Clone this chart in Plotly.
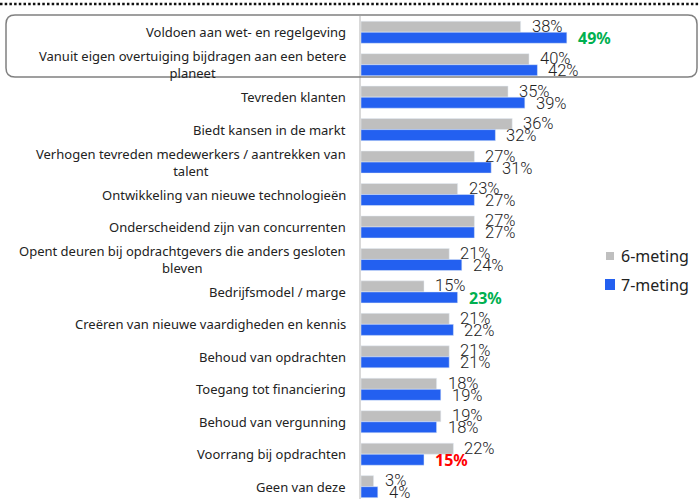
import plotly.graph_objects as go

categories = [
    "Voldoen aan wet- en regelgeving",
    "Vanuit eigen overtuiging bijdragen aan een betere<br>planeet",
    "Tevreden klanten",
    "Biedt kansen in de markt",
    "Verhogen tevreden medewerkers / aantrekken van<br>talent",
    "Ontwikkeling van nieuwe technologieën",
    "Onderscheidend zijn van concurrenten",
    "Opent deuren bij opdrachtgevers die anders gesloten<br>bleven",
    "Bedrijfsmodel / marge",
    "Creëren van nieuwe vaardigheden en kennis",
    "Behoud van opdrachten",
    "Toegang tot financiering",
    "Behoud van vergunning",
    "Voorrang bij opdrachten",
    "Geen van deze",
]
meting6 = [38, 40, 35, 36, 27, 23, 27, 21, 15, 21, 21, 18, 19, 22, 3]
meting7 = [49, 42, 39, 32, 31, 27, 27, 24, 23, 22, 21, 19, 18, 15, 4]
series_names = ["6-meting", "7-meting"]
# significant changes in the 7th measurement
highlight7 = {0: "#00B050", 8: "#00B050", 13: "#FF0000"}

GRAY = "#BFBFBF"
BLUE = "#2360F0"
TXT = "#222222"

# pixel helpers (plot area: x 361..700, y 16..499)
def px(x):
    return (x - 361) / 339

def py(y):
    return (499 - y) / 483

fig = go.Figure()
fig.add_bar(y=categories, x=meting6, orientation="h", name=series_names[0], marker_color=GRAY)
fig.add_bar(y=categories, x=meting7, orientation="h", name=series_names[1], marker_color=BLUE)

num_font = dict(family="Roboto", size=16.5, color=TXT, weight=300)

# value labels
for i, cat in enumerate(categories):
    fig.add_annotation(x=meting6[i], y=cat, text=f"{meting6[i]}%", showarrow=False,
                       xanchor="left", xshift=9, yshift=6, font=num_font)
    if i in highlight7:
        fig.add_annotation(x=meting7[i], y=cat, text=f"<b>{meting7[i]}%</b>", showarrow=False,
                           xanchor="left", xshift=9, yshift=-6,
                           font=dict(family="Noto Sans", size=16, color=highlight7[i]))
    else:
        fig.add_annotation(x=meting7[i], y=cat, text=f"{meting7[i]}%", showarrow=False,
                           xanchor="left", xshift=9, yshift=-6, font=num_font)
    # category label
    fig.add_annotation(x=0, xref="paper", y=cat, text=cat, showarrow=False,
                       xanchor="right", xshift=-13, align="center",
                       font=dict(family="Noto Sans", size=13, color=TXT))

# legend drawn by hand (small squares, text close to them)
for name, col, (sx0, sx1, sy0, sy1), ty in [
    (series_names[0], GRAY, (606, 614, 252, 260), 256),
    (series_names[1], BLUE, (605, 615, 279, 290), 285),
]:
    fig.add_shape(type="rect", xref="paper", yref="paper", x0=px(sx0), x1=px(sx1),
                  y0=py(sy1), y1=py(sy0), fillcolor=col, line=dict(width=0))
    fig.add_annotation(x=px(619), y=py(ty), xref="paper", yref="paper", text=name,
                       showarrow=False, xanchor="left", yanchor="middle",
                       font=dict(family="Noto Sans", size=16, color=TXT))

# dotted line at the top
fig.add_shape(type="line", xref="paper", yref="paper", x0=px(0), x1=px(700),
              y0=py(4), y1=py(4), line=dict(color="#111111", width=2.5, dash="2.5px,2.2px"))

# rounded box round the first two rows
x0, x1 = px(6), px(697)
y0, y1 = py(77), py(15)
rx, ry = 9 / 339, 9 / 483
path = (f"M{x0 + rx},{y1} L{x1 - rx},{y1} Q{x1},{y1} {x1},{y1 - ry} "
        f"L{x1},{y0 + ry} Q{x1},{y0} {x1 - rx},{y0} L{x0 + rx},{y0} "
        f"Q{x0},{y0} {x0},{y0 + ry} L{x0},{y1 - ry} Q{x0},{y1} {x0 + rx},{y1} Z")
fig.add_shape(type="path", xref="paper", yref="paper", path=path,
              line=dict(color="#808080", width=1.5))

fig.update_layout(
    width=700, height=499,
    margin=dict(l=361, r=0, t=16, b=0, autoexpand=False),
    plot_bgcolor="white", paper_bgcolor="white",
    barmode="group", bargap=0.32, bargroupgap=0,
    showlegend=False,
    xaxis=dict(range=[0, 80.7], visible=False, showgrid=False, zeroline=False),
    yaxis=dict(range=[14.38, -0.5], showticklabels=False, showgrid=False, zeroline=False,
               showline=True, linecolor="#D9D9D9", linewidth=1.5, ticks=""),
)

# drop the default page margin so the figure fills the window exactly
fig.write_html("out.html", config={"displayModeBar": False},
               post_script="document.body.style.margin='0';document.body.style.overflow='hidden';")
